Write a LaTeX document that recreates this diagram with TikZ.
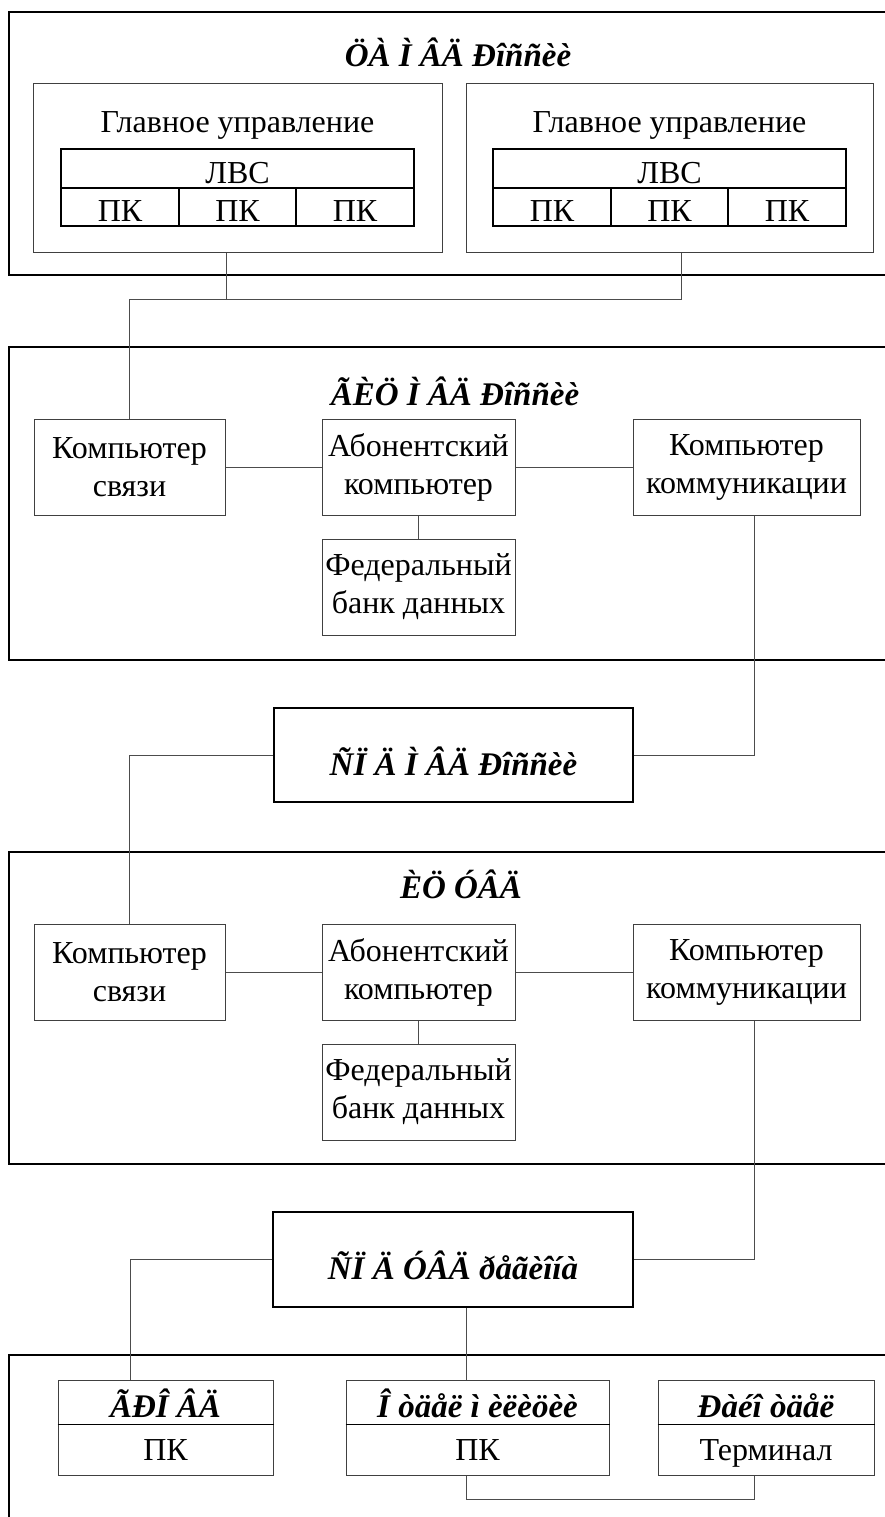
\documentclass[tikz,border=0pt]{standalone}
\usepackage{fontspec}
\setmainfont{Liberation Serif}
\newcommand\myBox[7]{%
  \pgfmathsetmacro\myBW{#5-#3}\pgfmathsetmacro\myBH{#6-#4}%
  \pgfmathsetmacro\myCX{(#3+#5)/2}\pgfmathsetmacro\myCY{(#4+#6)/2}%
  \node[#2, minimum width=\myBW pt, minimum height=\myBH pt] (#1) at (\myCX,\myCY) {#7};}
\begin{document}
\begin{tikzpicture}[x=1pt,y=-1pt,
  every node/.style={inner sep=0pt, align=center, font=\fontsize{32}{38}\selectfont},
  thinbox/.style={draw=black!75, line width=1pt},
  thickbox/.style={draw=black, line width=1.8pt},
  conn/.style={draw=black!70, line width=1pt},
  ttl/.style={font=\fontsize{33}{38}\selectfont\bfseries\itshape},
  low/.style={text height=#1, text depth=0pt},
]
\useasboundingbox (0,0) rectangle (885,1517);
\clip (0,0) rectangle (885,1517);
\fill[white] (0,0) rectangle (885,1517);

% ===== Section 1 =====
\myBox{ca}{thickbox}{9}{12}{905}{275}{}
\node[ttl, anchor=base] (cat) at (458,67) {ÖÀ Ì ÂÄ Ðîññèè};
\myBox{gu1}{thinbox}{33}{84}{442}{252}{}
\node[anchor=base] (gu1t) at (237.5,133) {Главное управление};
\myBox{lvs1}{thickbox,low=31pt}{61}{149}{414}{188}{ЛВС}
\myBox{pk11}{thickbox,low=30pt}{61}{188}{179}{226}{ПК}
\myBox{pk12}{thickbox,low=30pt}{179}{188}{296}{226}{ПК}
\myBox{pk13}{thickbox,low=30pt}{296}{188}{414}{226}{ПК}
\myBox{gu2}{thinbox}{466}{84}{873}{252}{}
\node[anchor=base] (gu2t) at (669.5,133) {Главное управление};
\myBox{lvs2}{thickbox,low=31pt}{493}{149}{846}{188}{ЛВС}
\myBox{pk21}{thickbox,low=30pt}{493}{188}{611}{226}{ПК}
\myBox{pk22}{thickbox,low=30pt}{611}{188}{728}{226}{ПК}
\myBox{pk23}{thickbox,low=30pt}{728}{188}{846}{226}{ПК}

% ===== Section 2 =====
\myBox{gic}{thickbox}{9}{347}{905}{660}{}
\node[ttl, anchor=base] (gict) at (455,405) {ÃÈÖ Ì ÂÄ Ðîññèè};
\myBox{ks1}{thinbox}{34}{419}{225}{515}{Компьютер\\связи}
\myBox{ab1}{thinbox}{322}{419}{515}{515}{Абонентский\\компьютер}
\myBox{kk1}{thinbox}{633}{419}{860}{515}{Компьютер\\коммуникации}
\myBox{fb1}{thinbox}{322}{539}{515}{635}{Федеральный\\банк данных}

\myBox{spd1}{thickbox,ttl,low=40pt}{274}{708}{633}{802}{ÑÏ Ä Ì ÂÄ Ðîññèè}

% ===== Section 3 =====
\myBox{icu}{thickbox}{9}{852}{905}{1164}{}
\node[ttl, anchor=base] (icut) at (461,898) {ÈÖ ÓÂÄ};
\myBox{ks2}{thinbox}{34}{924}{225}{1020}{Компьютер\\связи}
\myBox{ab2}{thinbox}{322}{924}{515}{1020}{Абонентский\\компьютер}
\myBox{kk2}{thinbox}{633}{924}{860}{1020}{Компьютер\\коммуникации}
\myBox{fb2}{thinbox}{322}{1044}{515}{1140}{Федеральный\\банк данных}

\myBox{spd2}{thickbox,ttl,low=40pt}{273}{1212}{633}{1307}{ÑÏ Ä ÓÂÄ ðåãèîíà}

% ===== Section 4 =====
\myBox{reg}{thickbox}{9}{1355}{905}{1540}{}
\myBox{grh}{thinbox,ttl,low=30pt}{58}{1380}{273}{1424}{ÃÐÎ ÂÄ}
\myBox{grb}{thinbox,low=21pt}{58}{1424}{273}{1475}{ПК}
\myBox{oth}{thinbox,ttl,low=30pt}{346}{1380}{609}{1424}{Î òäåë ì èëèöèè}
\myBox{otb}{thinbox,low=21pt}{346}{1424}{609}{1475}{ПК}
\myBox{rjh}{thinbox,ttl,low=30pt}{658}{1380}{874}{1424}{Ðàéî òäåë}
\myBox{rjb}{thinbox,low=21pt}{658}{1424}{874}{1475}{Терминал}
\draw[line width=1.8pt] (grh.south west) -- (grh.south east);
\draw[line width=1.8pt] (oth.south west) -- (oth.south east);
\draw[line width=1.8pt] (rjh.south west) -- (rjh.south east);

% ===== Connectors =====
\coordinate (j1) at (226,299);
\coordinate (j2) at (681,299);
\draw[conn] (gu1.south -| j1) -- (j1) -- (j2) -- (gu2.south -| j2);
\draw[conn] (j1) -| (ks1.north);
\draw[conn] (ks1.east) -- (ab1.west);
\draw[conn] (ab1.east) -- (kk1.west);
\draw[conn] (ab1.south) -- (fb1.north);
\coordinate (c2) at (754,755);
\draw[conn] (kk1.south -| c2) -- (c2) -- (spd1.east |- c2);
\draw[conn] (spd1.west |- c2) -| (ks2.north);
\draw[conn] (ks2.east) -- (ab2.west);
\draw[conn] (ab2.east) -- (kk2.west);
\draw[conn] (ab2.south) -- (fb2.north);
\coordinate (c4) at (754,1259);
\draw[conn] (kk2.south -| c4) -- (c4) -- (spd2.east |- c4);
\coordinate (c5) at (130,1259);
\draw[conn] (spd2.west |- c5) -- (c5) -- (c5 |- grh.north);
\coordinate (c6) at (466,1499);
\coordinate (c7) at (754,1499);
\draw[conn] (spd2.south -| c6) -- (oth.north -| c6);
\draw[conn] (otb.south -| c6) -- (c6) -- (c7) -- (rjb.south -| c7);
\end{tikzpicture}
\end{document}
